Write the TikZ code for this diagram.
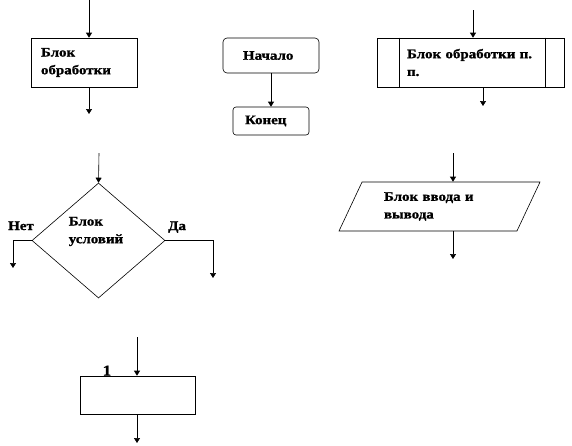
\documentclass[tikz,border=0pt]{standalone}
\usepackage{fontspec}
\setmainfont{Liberation Serif}[FakeStretch=1.15, BoldFeatures={FakeBold=1.2}]
\usetikzlibrary{arrows.meta,positioning,shapes.geometric}

\begin{document}
\begin{tikzpicture}[x=1pt, y=-1pt,
  every node/.style={font=\fontsize{13}{17.7}\selectfont\bfseries, inner sep=0pt},
  line/.style={line width=0.6pt},
  arr/.style={line width=0.6pt, -{Triangle[length=5pt, width=6pt]}},
  proc/.style={draw, line width=0.6pt, align=left},
  term/.style={draw, line width=0.6pt, rounded corners=4pt, align=left},
  cond/.style={draw, line width=0.6pt, shape=diamond, minimum width=133pt, minimum height=115pt},
  io/.style={draw, line width=0.6pt, shape=trapezium, trapezium left angle=51, trapezium right angle=129,
    trapezium stretches body, minimum width=201pt, minimum height=49pt, align=left}]
\useasboundingbox (0,0) rectangle (572,445);

% Processing block
\node[proc, minimum width=106pt, minimum height=49pt, text width=87pt] (proc) at (84.5,62.5) {Блок\\обработки};
\coordinate (procin) at (89,0);
\coordinate (procout) at (89,114);
\draw[arr] (procin) -- (procin |- proc.north);
\draw[arr] (procout |- proc.south) -- (procout);

% Start and end
\node[term, minimum width=96pt, minimum height=35pt, text width=56pt] (start) at (271,55.5) {Начало};
\node[term, rounded corners=3pt, minimum width=76pt, minimum height=28pt, text width=52pt] (stop) at (271,121) {Конец};
\draw[arr] (start) -- (stop);

% Predefined process
\node[proc, minimum width=187pt, minimum height=49pt, text width=127pt] (sub) at (470.5,62.5) {Блок обработки п.\\п.};
\draw[line] ([xshift=23pt]sub.north west) -- ([xshift=23pt]sub.south west);
\draw[line] ([xshift=-19pt]sub.north east) -- ([xshift=-19pt]sub.south east);
\coordinate (subin) at (473,10);
\coordinate (subout) at (483,106);
\draw[arr] (subin) -- (subin |- sub.north);
\draw[arr] (subout |- sub.south) -- (subout);

% Condition
\node[cond, label={[align=left, xshift=-2.5pt, yshift=9pt]center:Блок\\условий}] (cond) at (98.5,240.5) {};
\node[anchor=base west] (no) at (8,230) {Нет};
\node[anchor=base west] (yes) at (168,230) {Да};
\coordinate (condin) at (99,153);
\coordinate (noend) at (13,268);
\coordinate (yesend) at (213,278);
\draw[arr] (condin) -- (cond.north);
\draw[arr] (cond.west) -| (noend);
\draw[arr] (cond.east) -| (yesend);

% Input / output
\node[io, text width=111pt] (io) at (439.5,206.5) {Блок ввода и\\вывода};
\coordinate (ioin) at (453,153);
\coordinate (ioout) at (453,259);
\draw[arr] (ioin) -- (ioin |- io.north);
\draw[arr] (ioout |- io.south) -- (ioout);

% Numbered block
\node[proc, minimum width=115pt, minimum height=38pt, label={[xshift=-30.5pt, font=\fontsize{15}{18}\selectfont\bfseries]above:1}] (blkone) at (137.5,395) {};
\coordinate (blkin) at (137,337);
\coordinate (blkout) at (137,443);
\draw[arr] (blkin) -- (blkin |- blkone.north);
\draw[arr] (blkout |- blkone.south) -- (blkout);
\end{tikzpicture}
\end{document}
